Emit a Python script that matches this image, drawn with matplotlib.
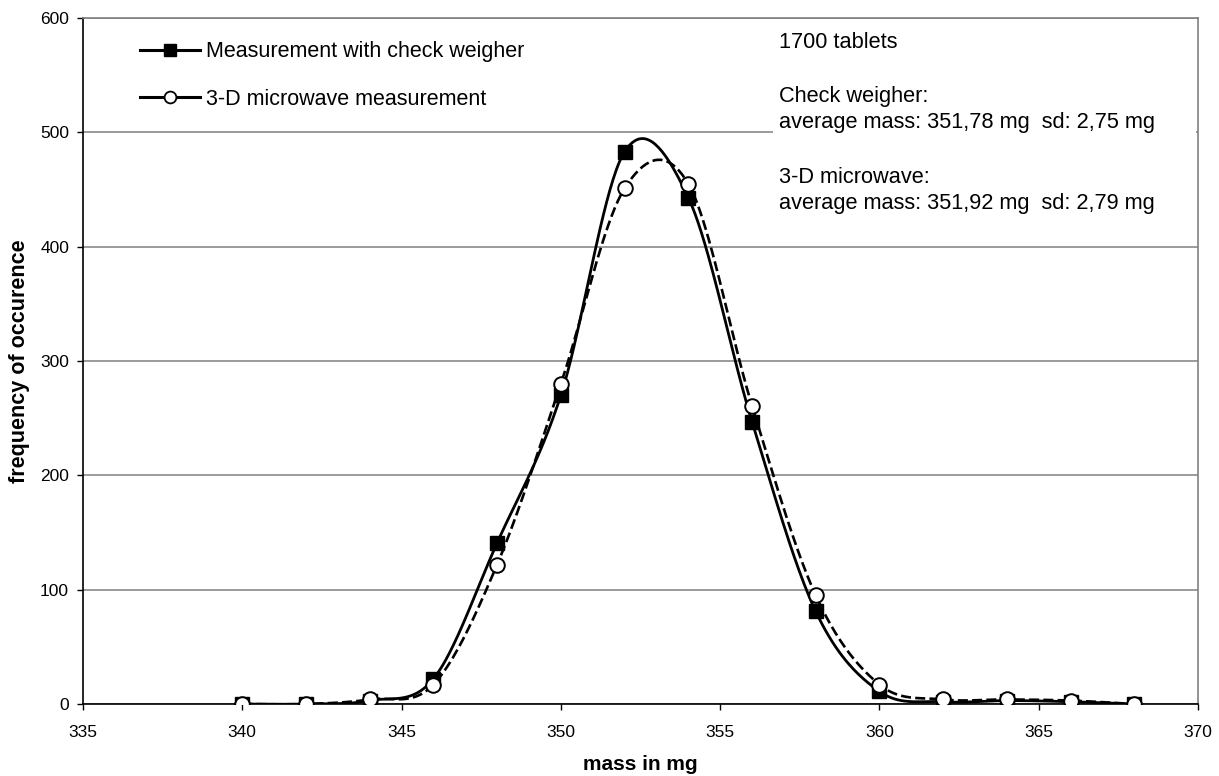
import numpy as np
import matplotlib
matplotlib.use("Agg")
import matplotlib.pyplot as plt
from matplotlib.lines import Line2D
from matplotlib.patches import Rectangle

plt.rcParams['font.family'] = ['Liberation Sans', 'DejaVu Sans']

# data
mass = [340, 342, 344, 346, 348, 350, 352, 354, 356, 358, 360, 362, 364, 366, 368]
check_weigher = [0, 0, 3, 22, 141, 270, 483, 443, 247, 81, 11, 2, 3, 2, 0]
microwave = [0, 0, 4, 17, 122, 280, 451, 455, 261, 95, 17, 4, 4, 3, 0]

series_labels = ['Measurement with check weigher', '3-D microwave measurement']
info_lines = ['1700 tablets',
              'Check weigher:',
              'average mass: 351,78 mg  sd: 2,75 mg',
              '3-D microwave:',
              'average mass: 351,92 mg  sd: 2,79 mg']


def excel_smooth(x, y, n=40):
    # bezier smoothing like a spreadsheet "smoothed line"
    x = np.asarray(x, float)
    y = np.asarray(y, float)
    px = np.concatenate([[x[0]], x, [x[-1]]])
    py = np.concatenate([[y[0]], y, [y[-1]]])
    t = np.linspace(0, 1, n)[:, None]
    out_x, out_y = [], []
    for i in range(1, len(px) - 2):
        p0 = np.array([px[i], py[i]])
        p3 = np.array([px[i + 1], py[i + 1]])
        c1 = p0 + (np.array([px[i + 1], py[i + 1]]) - np.array([px[i - 1], py[i - 1]])) / 6
        c2 = p3 - (np.array([px[i + 2], py[i + 2]]) - np.array([px[i], py[i]])) / 6
        pts = ((1 - t) ** 3) * p0 + 3 * ((1 - t) ** 2) * t * c1 + 3 * (1 - t) * t ** 2 * c2 + t ** 3 * p3
        out_x.append(pts[:, 0])
        out_y.append(pts[:, 1])
    return np.concatenate(out_x), np.concatenate(out_y)


fig = plt.figure(figsize=(12.19, 7.76), dpi=100)
ax = fig.add_axes([83 / 1219, 72 / 776, 1115 / 1219, 686 / 776])

ax.set_xlim(335, 370)
ax.set_ylim(0, 600)
ax.set_xticks(np.arange(335, 371, 5))
ax.set_yticks(np.arange(0, 601, 100))
ax.set_axisbelow(True)
ax.grid(axis='y', color='#808080', lw=1.1)

# white box behind the info text hides the grid line
ax.add_patch(Rectangle((0.619, 0.684), 0.379, 0.31, transform=ax.transAxes,
                       facecolor='white', edgecolor='none', zorder=1))

sx, sy = excel_smooth(mass, check_weigher)
mx, my = excel_smooth(mass, microwave)
ax.plot(sx, sy, color='black', lw=2.0, zorder=3)
ax.plot(mx, my, color='black', lw=1.9, linestyle=(0, (3.8, 1.6)), zorder=3)
ax.plot(mass, check_weigher, linestyle='none', marker='s', ms=9.5,
        color='black', zorder=4)
ax.plot(mass, microwave, linestyle='none', marker='o', ms=10.5,
        markerfacecolor='white', markeredgecolor='black', mew=1.4, zorder=5)

for side in ['left', 'bottom']:
    ax.spines[side].set_color('black')
    ax.spines[side].set_linewidth(1.2)
for side in ['top', 'right']:
    ax.spines[side].set_color('#808080')
    ax.spines[side].set_linewidth(1.2)

ax.tick_params(direction='out', length=4, width=1, labelsize=12.5)
ax.tick_params(axis='x', pad=11)
ax.tick_params(axis='y', pad=6)
ax.set_xlabel('mass in mg', fontsize=15, fontweight='bold', labelpad=11)
ax.set_ylabel('frequency of occurence', fontsize=15.5, fontweight='bold', labelpad=7.5)

handles = [
    Line2D([], [], color='black', lw=2.2, marker='s', ms=9),
    Line2D([], [], color='black', lw=2.2, marker='o', ms=8.5,
           markerfacecolor='white', mew=1.3),
]
ax.legend(handles, series_labels, loc='upper left', bbox_to_anchor=(0.051, 0.966),
          frameon=False, fontsize=15.5, handlelength=2.8, handletextpad=0.25,
          labelspacing=1.23, borderpad=0, borderaxespad=0)

ys = [0.965, 0.886, 0.848, 0.768, 0.730]
for txt, yy in zip(info_lines, ys):
    ax.text(0.6242, yy, txt, transform=ax.transAxes, fontsize=15.7,
            va='center', ha='left', zorder=6)

fig.savefig('out.png', dpi=100)
